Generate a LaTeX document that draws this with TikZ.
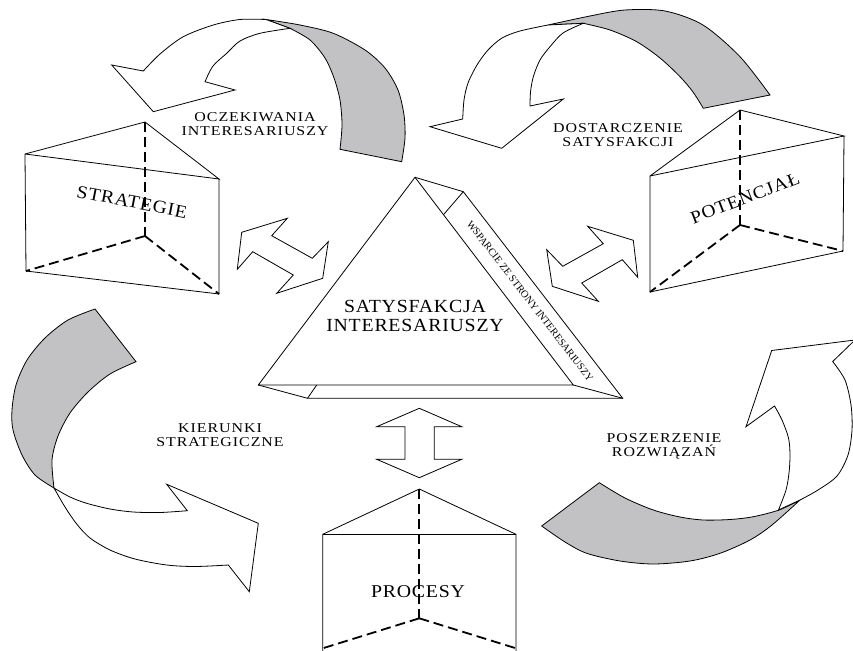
\documentclass[tikz,border=0pt]{standalone}
\usepackage{fontspec}
\setmainfont{Liberation Serif}
\newfontfamily\lblfont[LetterSpace=6]{Liberation Serif}
\newfontfamily\midfont[LetterSpace=4]{Liberation Serif}
\newfontfamily\prismfont[LetterSpace=4]{Liberation Serif}
\usetikzlibrary{calc}
\definecolor{backgrey}{RGB}{194,194,196}
\tikzset{
  outline/.style={draw=black, line width=0.8pt, line join=miter},
  whiteface/.style={outline, fill=white},
  greyface/.style={outline, fill=backgrey},
  hiddenedge/.style={draw=black, line width=1.8pt, dash pattern=on 10pt off 5pt},
  plainedge/.style={draw=black, line width=0.8pt, line join=miter},
  lbl/.style={align=center, inner sep=0pt, xscale=1.18, font=\lblfont\fontsize{13.5}{13.8}\selectfont},
  midlbl/.style={align=center, inner sep=0pt, xscale=1.07, font=\midfont\fontsize{18.5}{19.5}\selectfont},
  prismlbl/.style={inner sep=0pt, font=\prismfont\fontsize{18}{20}\selectfont},
  striplbl/.style={inner sep=0pt, font=\fontsize{10.3}{12}\selectfont}
}
\begin{document}
\begin{tikzpicture}[x=1pt,y=-1pt]
\useasboundingbox (0,0) rectangle (853,650);
\begin{scope}
\clip (0,0) rectangle (853,650);

% ---------- curved arrow 1 (top left) ----------
\filldraw[greyface] plot[smooth] coordinates {(266,19.5) (300,25) (333.3,33.3) (365,50) (385,68) (398,90) (404,115) (405,138) (401.7,161.7)}
  -- (340,149.3)
  -- plot[smooth] coordinates {(340,149.3) (342,125) (340,100) (334,78) (325,58) (310,40) (290,28.3)}
  -- cycle;
\filldraw[whiteface] plot[smooth] coordinates {(143.3,71) (160,54) (183.3,36.7) (213.3,25) (240,19.5) (266,19.5)}
  -- (290,28.3)
  -- plot[smooth] coordinates {(290,28.3) (260,33.3) (240,41) (226.7,53.3) (213,66) (205,81.7)}
  -- (235,90) -- (153.3,111.7) -- (111.7,65) -- cycle;

% ---------- curved arrow 2 (top right) ----------
\filldraw[greyface] plot[smooth] coordinates {(548,25) (590,16) (625,10) (665,11) (703,25) (740,56.7) (770,95)}
  -- (703.3,108.3)
  -- plot[smooth] coordinates {(703.3,108.3) (693,92) (680,76.7) (660,58) (636.7,41.7) (610,30) (583.3,23.3)}
  -- cycle;
\filldraw[whiteface] plot[smooth] coordinates {(462.7,119) (464,100) (468,83) (477,65) (488,50) (502,38) (520,31) (548,25)}
  -- (583.3,23.3)
  -- plot[smooth] coordinates {(583.3,23.3) (563,33) (550,46.7) (540,60) (533.3,76.7) (530.5,92) (530,106)}
  -- (563.3,99) -- (501.7,148.3) -- (430,126.7) -- cycle;

% ---------- curved arrow 3 (left) ----------
\filldraw[greyface] (95,309) -- (136,361.7)
  -- plot[smooth] coordinates {(136,361.7) (110,374) (88,392) (70,413) (58,436) (52,460) (54,488)}
  -- plot[smooth] coordinates {(54,488) (35,475) (22,455) (13,430) (12,410) (16,385) (27,360) (45,338) (68,320) (95,309)}
  -- cycle;
\filldraw[whiteface] plot[smooth] coordinates {(54,488) (70,497) (86.7,503.3) (110,509) (133.3,512) (160,512.5) (187.3,510.7)}
  -- (166.7,484.3) -- (258.3,523.3) -- (249.3,591.7) -- (228.3,565)
  -- plot[smooth] coordinates {(228.3,565) (195,566.5) (166.7,565) (135,559) (110,550) (90,538) (76.7,524) (65,507) (54,488)}
  -- cycle;

% ---------- curved arrow 4 (right) ----------
\filldraw[greyface] (599.3,482.7) -- (541.7,526)
  -- plot[smooth] coordinates {(541.7,526) (565,542) (586.7,553.3) (620,561) (653.3,564) (690,561) (720,553.3) (750,540) (772,525) (800,500)}
  -- plot[smooth] coordinates {(800,500) (779,510) (753.3,516.7) (730,519.5) (703.3,520) (680,517) (653.3,510) (625,498) (599.3,482.7)}
  -- cycle;
\filldraw[whiteface] plot[smooth] coordinates {(778.5,510) (786,490) (789,473) (790,455) (788.5,438) (782,420) (774.5,406)}
  -- (746,426.7) -- (771.7,350.5) -- (855,340) -- (832.7,361.5)
  -- plot[smooth] coordinates {(832.7,361.5) (845,380) (851,405) (852,430) (848,455) (837,476) (818,490) (800,500)}
  -- cycle;

% ---------- prism STRATEGIE ----------
\coordinate (sA) at (145,122);
\coordinate (sL) at (25,154);
\coordinate (sR) at (219,179);
\coordinate (sLb) at (26,271);
\coordinate (sRb) at (219,294);
\coordinate (sB) at (145,236);
\draw[plainedge] (sL) -- (sA) -- (sR) -- (sL) -- (sLb) -- (sRb) -- (sR);
\draw[hiddenedge] (sA) -- (sB);
\draw[hiddenedge] (sB) -- (sLb);
\draw[hiddenedge] (sB) -- (sRb);
\node[prismlbl, rotate=-11, xscale=1.1] (strategie) at (132,202) {STRATEGIE};

% ---------- prism POTENCJAL ----------
\coordinate (pA) at (740,110);
\coordinate (pL) at (650,176);
\coordinate (pR) at (844,136);
\coordinate (pLb) at (650,292);
\coordinate (pRb) at (843,251);
\coordinate (pB) at (740,225);
\draw[plainedge] (pL) -- (pA) -- (pR) -- (pL) -- (pLb) -- (pRb) -- (pR);
\draw[hiddenedge] (pA) -- (pB);
\draw[hiddenedge] (pB) -- (pLb);
\draw[hiddenedge] (pB) -- (pRb);
\node[prismlbl, rotate=21, xscale=1.08] (potencjal) at (745,198) {POTENCJAŁ};

% ---------- prism PROCESY ----------
\coordinate (cA) at (419.3,489);
\coordinate (cL) at (322.7,534.3);
\coordinate (cR) at (516,534.3);
\coordinate (cB) at (419.3,618.3);
\coordinate (cLb) at (322.7,648.3);
\coordinate (cRb) at (516,648.3);
\coordinate (cLe) at (322.7,652);
\coordinate (cRe) at (516,652);
\draw[plainedge] (cLe) -- (cL) -- (cA) -- (cR) -- (cRe);
\draw[plainedge] (cL) -- (cR);
\draw[hiddenedge] (cA) -- (cB);
\draw[hiddenedge] (cB) -- (cLb);
\draw[hiddenedge] (cB) -- (cRb);
\node[prismlbl, xscale=1.1] (procesy) at (418,592) {PROCESY};

% ---------- central triangle ----------
\coordinate (tA) at (415,177.3);
\coordinate (tL) at (258.3,385);
\coordinate (tR) at (573.3,385);
\coordinate (sTop) at (463.3,191.7);
\coordinate (sBR) at (622.7,398.3);
\coordinate (sBL) at (307.5,398.3);
\draw[plainedge] (tA) -- (tL) -- (tR) -- cycle;
\draw[plainedge] (tA) -- (sTop) -- (sBR) -- (sBL) -- (tL);
\draw[plainedge] ($(tA)!0.18!(tR)$) -- (sTop);
\draw[plainedge] (316.7,385) -- (sBL);
\draw[plainedge] (tR) -- (sBR);
\node[midlbl] (satys) at (415,316) {SATYSFAKCJA\\INTERESARIUSZY};
\node[striplbl, rotate=-52.3] (wsparcie) at (530,301) {WSPARCIE ZE STRONY INTERESARIUSZY};

% ---------- double arrows ----------
\filldraw[whiteface] (241.7,232.3) -- (287.3,218.3) -- (271.7,235.7) -- (312.3,258.3) -- (328.3,241.7) -- (322.7,278.3) -- (276.7,293.3) -- (293.3,275) -- (252.7,251.7) -- (237.3,269.3) -- cycle;
\filldraw[whiteface] (633.3,240.3) -- (587.7,226.3) -- (603.3,243.7) -- (562.7,266.3) -- (546.7,249.7) -- (552.3,286.3) -- (598.3,301.3) -- (581.7,283) -- (622.3,259.7) -- (637.7,277.3) -- cycle;
\filldraw[whiteface] (419.3,408.3) -- (461.7,426.7) -- (434.3,426.7) -- (434.3,459.3) -- (461.7,459.3) -- (419.3,477.7) -- (376.7,459.3) -- (405,459.3) -- (405,426.7) -- (376.7,426.7) -- cycle;

% ---------- labels ----------
\node[lbl] (oczek) at (255,124) {OCZEKIWANIA\\INTERESARIUSZY};
\node[lbl] (dostar) at (618,135) {DOSTARCZENIE\\SATYSFAKCJI};
\node[lbl] (kier) at (220,435) {KIERUNKI\\STRATEGICZNE};
\node[lbl] (posz) at (664,446) {POSZERZENIE\\ROZWIĄZAŃ};
\end{scope}
\end{tikzpicture}
\end{document}
